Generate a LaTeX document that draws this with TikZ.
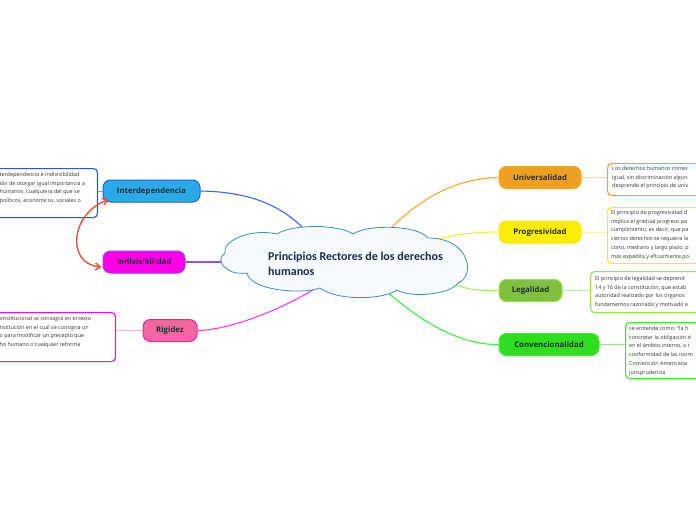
\documentclass[tikz,border=0pt]{standalone}
\usepackage{fontspec}
\setmainfont{Open Sans}
\newfontfamily\cfont{Carlito}
\usetikzlibrary{arrows.meta}
\definecolor{txt}{HTML}{1E3333}
\definecolor{navy}{HTML}{1A2A50}
\definecolor{boxtxt}{HTML}{333333}
\tikzset{
  pill/.style={rounded corners=7.5pt, line width=1pt, minimum height=22pt, inner sep=0pt,
    font=\bfseries\fontsize{7.8}{9}\selectfont, text=txt},
  infobox/.style={rounded corners=4pt, line width=1.1pt, fill=white, inner sep=0pt},
  infotext/.style={anchor=north west, align=left, inner sep=0pt, text=boxtxt,
    font=\fontsize{5.4}{8.8}\selectfont},
  branch/.style={line width=1.1pt},
  thin/.style={line width=0.9pt},
}
\begin{document}
\begin{tikzpicture}[x=1pt,y=-1pt]
\useasboundingbox (0,0) rectangle (696,520);
\clip (0,0) rectangle (696,520);
\fill[white] (0,0) rectangle (696,520);

% info boxes
\node[infobox, draw={rgb,255:red,35;green,90;blue,225}, minimum width=160pt, minimum height=49pt, anchor=north east] (b1) at (98,168) {};
\node[infobox, draw={rgb,255:red,230;green,20;blue,225}, minimum width=160pt, minimum height=49pt, anchor=north east] (b2) at (116,312) {};
\node[infobox, draw={rgb,255:red,242;green,160;blue,50}, minimum width=160pt, minimum height=32pt, anchor=north west] (b3) at (607,163) {};
\node[infobox, draw={rgb,255:red,245;green,240;blue,0}, minimum width=160pt, minimum height=56pt, anchor=north west] (b4) at (607,207) {};
\node[infobox, draw={rgb,255:red,140;green,235;blue,70}, minimum width=160pt, minimum height=41pt, anchor=north west] (b5) at (590,271) {};
\node[infobox, draw={rgb,255:red,60;green,225;blue,60}, minimum width=160pt, minimum height=56pt, anchor=north west] (b6) at (625,322) {};

\node[infotext] (t1) at (-0.5,172) {terdependencia e indivisibilidad\\i\'on de otorgar igual importancia a\\ humanos, cualquiera del que se\\pol\'iticos, econ\'omicos, sociales o};
\node[infotext] (t2) at (-0.5,316) {onstitucional se consagra en el texto\\nstituci\'on en el cual se consigna un\\o para modificar un precepto que\\ho humano o cualquier reforma};
\node[infotext] (t3) at (612,166) {Los derechos humanos corres\\igual, sin discriminaci\'on algun\\desprende el principio de univ};
\node[infotext] (t4) at (611,210) {El principio de progresividad d\\implica el gradual progreso pa\\cumplimiento, es decir, que pa\\ciertos derechos se requiera la\\corto, mediano y largo plazo, p\\m\'as expedita y eficazmente po};
\node[infotext] (t5) at (595,276) {El principio de legalidad se deprend\\14 y 16 de la constituci\'on, que estab\\autoridad realizado por los \'organos\\fundamentos razonado y motivado e};
\node[infotext] (t6) at (629,326) {se entiende como: ``la h\\concretar la obligaci\'on d\\en el \'ambito interno, a t\\conformidad de las norm\\Convenci\'on Americana\\jurisprudencia.};

% branch nodes
\node[pill, fill={rgb,255:red,42;green,170;blue,232}, draw={rgb,255:red,40;green,95;blue,225}, minimum width=97pt] (inter) at (151.5,191) {Interdependencia};
\node[pill, fill={rgb,255:red,255;green,0;blue,230}, draw={rgb,255:red,150;green,60;blue,240}, minimum width=82pt] (indiv) at (144,262) {Indivisibilidad};
\node[pill, fill={rgb,255:red,240;green,104;blue,158}, draw={rgb,255:red,225;green,35;blue,200}, minimum width=54pt] (rig) at (170,330.5) {Rigidez};
\node[pill, fill={rgb,255:red,240;green,160;blue,32}, draw={rgb,255:red,240;green,165;blue,45}, minimum width=82pt] (univ) at (540,177.5) {Universalidad};
\node[pill, fill={rgb,255:red,255;green,238;blue,0}, draw={rgb,255:red,245;green,232;blue,0}, minimum width=82pt] (prog) at (540,232) {Progresividad};
\node[pill, fill={rgb,255:red,128;green,192;blue,64}, draw={rgb,255:red,150;green,228;blue,72}, minimum width=63pt] (leg) at (530.5,290.5) {Legalidad};
\node[pill, fill={rgb,255:red,48;green,221;blue,32}, draw={rgb,255:red,64;green,236;blue,48}, minimum width=100pt] (conv) at (549,344.5) {Convencionalidad};

% thin links to boxes
\draw[thin, draw={rgb,255:red,120;green,160;blue,245}] (inter.west) -- (inter.west -| b1.east);
\draw[thin, draw={rgb,255:red,255;green,170;blue,240}] (rig.west) -- (rig.west -| b2.east);
\draw[thin, draw={rgb,255:red,250;green,215;blue,160}] (univ.east) -- (univ.east -| b3.west);
\draw[thin, draw={rgb,255:red,250;green,245;blue,150}] (prog.east) -- (prog.east -| b4.west);
\draw[thin, draw={rgb,255:red,190;green,240;blue,150}] (leg.east) -- (leg.east -| b5.west);
\draw[thin, draw={rgb,255:red,140;green,235;blue,140}] (conv.east) -- (conv.east -| b6.west);

% branch connectors to the cloud
\coordinate (e1) at (314,240);
\coordinate (e2) at (235,262);
\coordinate (e3) at (322,284);
\coordinate (e4) at (380,240);
\coordinate (e5) at (420,244);
\coordinate (e6) at (448,282);
\coordinate (e7) at (378,284);
\draw[branch, draw={rgb,255:red,55;green,105;blue,240}] (inter.east) .. controls (255,192) and (288,208) .. (e1);
\draw[branch, draw={rgb,255:red,150;green,80;blue,240}] (indiv.east) -- (e2);
\draw[branch, draw={rgb,255:red,255;green,60;blue,225}] (rig.east) .. controls (232,330) and (290,306) .. (e3);
\draw[branch, draw={rgb,255:red,248;green,165;blue,50}] (e4) .. controls (415,200) and (455,178) .. (univ.west);
\draw[branch, draw={rgb,255:red,240;green,240;blue,60}] (e5) .. controls (450,234) and (475,232) .. (prog.west);
\draw[branch, draw={rgb,255:red,160;green,240;blue,90}] (e6) .. controls (470,290) .. (leg.west);
\draw[branch, draw={rgb,255:red,64;green,236;blue,64}] (e7) .. controls (420,322) and (460,345) .. (conv.west);

% central cloud
\coordinate (c) at (346,260);
\draw[draw={rgb,255:red,60;green,140;blue,205}, line width=0.8pt, fill={rgb,255:red,246;green,251;blue,254}]
  (225,253) .. controls (222,241) and (250,228) .. (277,234)
  .. controls (292,224) and (338,224) .. (353,234)
  .. controls (368,224) and (418,225) .. (428,238)
  .. controls (470,238) and (476,276) .. (458,283)
  .. controls (450,295) and (410,298) .. (397,290)
  .. controls (380,301) and (335,300) .. (320,288)
  .. controls (300,295) and (250,290) .. (247,273)
  .. controls (226,276) and (214,260) .. cycle;
\node[anchor=north west, align=left, inner sep=0pt, text=navy,
  font=\cfont\bfseries\fontsize{12}{15}\selectfont] (ct) at (268,252) {Principios Rectores de los derechos\\humanos};

% red double arrow
\draw[line width=1.4pt, draw={rgb,255:red,232;green,80;blue,60}, {Straight Barb[length=5pt,width=7pt]}-{Straight Barb[length=5pt,width=7pt]}]
  ([xshift=6pt,yshift=3pt]inter.south west) .. controls (70,214) and (66,264) .. ([xshift=-1pt,yshift=-5pt]indiv.west);
\end{tikzpicture}
\end{document}
